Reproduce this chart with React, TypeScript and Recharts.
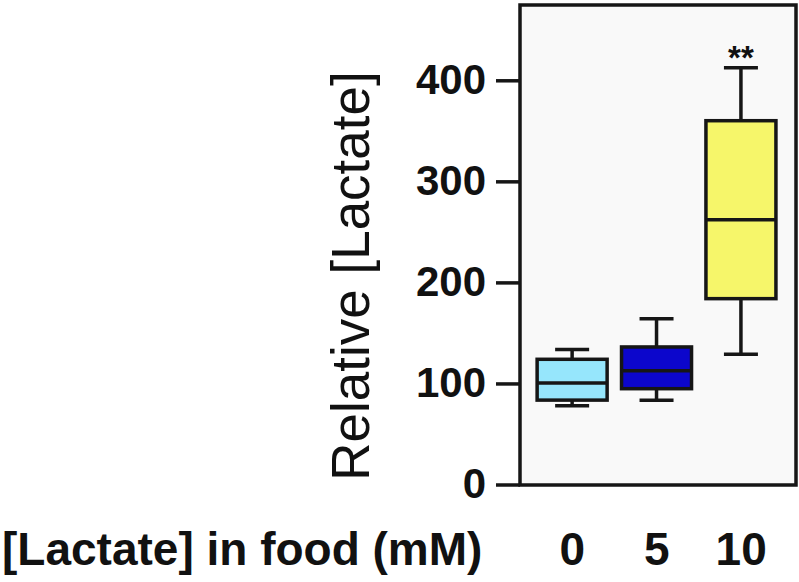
import React from 'react';
import {
  ComposedChart,
  Bar,
  XAxis,
  YAxis,
  ReferenceArea,
  LabelList,
  Label,
} from 'recharts';

// lactate dose groups (mM) and the box plot stats
const doses = ['0', '5', '10'];
const mins = [78.5, 83.8, 129.3];
const q1s = [84, 95.3, 184.4];
const medians = [101, 113, 262.5];
const q3s = [124.4, 136.6, 360.5];
const maxes = [134, 164.6, 413];
const marks = ['', '', '**'];

const yTicks = [0, 100, 200, 300, 400];
const Y_MAX = 475;
const X_DOMAIN = [-0.62, 2.65];

const BOX_COLORS = ['#96e6fc', '#0c06cc', '#f6f66a'];
const INK = '#161616';
const LW = 3.5;
const FONT = '"Liberation Sans", Arial, sans-serif';

const data = doses.map((dose, i) => ({
  pos: i,
  dose,
  range: [mins[i], maxes[i]],
  min: mins[i],
  q1: q1s[i],
  median: medians[i],
  q3: q3s[i],
  max: maxes[i],
  mark: marks[i],
  color: BOX_COLORS[i],
}));

const BoxShape = (props: any) => {
  const { x, y, width, height, payload } = props;
  const top = Math.min(y, y + height);
  const h = Math.abs(height);
  const { min, q1, median, q3, max, color } = payload;
  // bar spans [min, max], so map the other stats inside it
  const k = h / (max - min);
  const toY = (v: number) => top + (max - v) * k;
  const cx = x + width / 2;
  const cap = 17;
  return (
    <g stroke={INK} strokeWidth={LW}>
      <line x1={cx} x2={cx} y1={toY(max)} y2={toY(q3)} />
      <line x1={cx} x2={cx} y1={toY(q1)} y2={toY(min)} />
      <line x1={cx - cap} x2={cx + cap} y1={toY(max)} y2={toY(max)} />
      <line x1={cx - cap} x2={cx + cap} y1={toY(min)} y2={toY(min)} />
      <rect x={x} y={toY(q3)} width={width} height={toY(q1) - toY(q3)} fill={color} />
      <line x1={x} x2={x + width} y1={toY(median)} y2={toY(median)} />
    </g>
  );
};

const YTick = (p: any) => (
  <text
    x={p.x}
    y={p.y}
    dy={13}
    textAnchor="end"
    fontFamily={FONT}
    fontWeight="bold"
    fontSize={42}
    fill="#111"
  >
    {p.payload.value}
  </text>
);

const XTick = (p: any) => (
  <text
    x={p.x}
    y={p.y}
    dy={80}
    textAnchor="middle"
    fontFamily={FONT}
    fontWeight="bold"
    fontSize={46}
    fill="#111"
  >
    {doses[p.payload.value]}
  </text>
);

export default function App() {
  return (
    <div style={{ position: 'absolute', left: 0, top: 0, background: '#fff' }}>
      <ComposedChart
        width={799}
        height={582}
        data={data}
        margin={{ top: 5, right: 3, bottom: 0, left: 0 }}
      >
        <ReferenceArea
          y1={0}
          y2={Y_MAX}
          fill="#f9f9f9"
          fillOpacity={1}
          stroke={INK}
          strokeWidth={LW}
        />
        <XAxis
          dataKey="pos"
          type="number"
          domain={X_DOMAIN}
          ticks={[0, 1, 2]}
          allowDataOverflow
          height={97}
          axisLine={false}
          tickLine={false}
          tickSize={0}
          tickMargin={0}
          tick={<XTick />}
        >
          <Label
            content={() => (
              <text
                x={2}
                y={565}
                fontFamily={FONT}
                fontWeight="bold"
                fontSize={46}
                fill="#111"
              >
                [Lactate] in food (mM)
              </text>
            )}
          />
        </XAxis>
        <YAxis
          width={520}
          domain={[0, Y_MAX]}
          ticks={yTicks}
          allowDataOverflow
          axisLine={false}
          tickLine={{ stroke: INK, strokeWidth: LW }}
          tickSize={24}
          tickMargin={10}
          tick={<YTick />}
        >
          <Label
            content={() => (
              <text
                x={369}
                y={276}
                transform="rotate(-90, 369, 276)"
                textAnchor="middle"
                fontFamily={FONT}
                fontSize={53}
                fill="#111"
              >
                Relative [Lactate]
              </text>
            )}
          />
        </YAxis>
        <Bar dataKey="range" barSize={70} shape={<BoxShape />} isAnimationActive={false}>
          <LabelList
            dataKey="mark"
            position="top"
            offset={-1}
            fontFamily={FONT}
            fontWeight="bold"
            fontSize={33}
            fill="#111"
          />
        </Bar>
      </ComposedChart>
    </div>
  );
}
